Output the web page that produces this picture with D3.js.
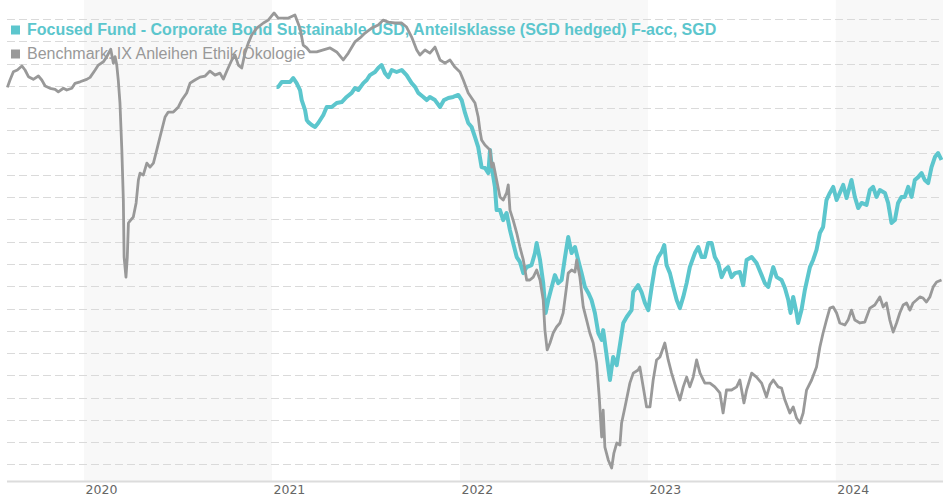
<!DOCTYPE html>
<html>
<head>
<meta charset="utf-8">
<script src="https://cdn.jsdelivr.net/npm/d3@7"></script>
<style>
  body { margin: 0; background: #fff; }
  svg { display: block; }
</style>
</head>
<body>
<div class="chart"></div>
<script>
// performance chart: fund vs benchmark, x in decimal years, y as indexed value

const fundName = 'Focused Fund - Corporate Bond Sustainable USD, Anteilsklasse (SGD hedged) F-acc, SGD';
const benchName = 'Benchmark: IX Anleihen Ethik/Ökologie';

const yearTicks = [2020, 2021, 2022, 2023, 2024];
const shadedYears = [2020, 2022, 2024];

// [year, value]
const benchmark = [
  [2019.592, 99.93], [2019.606, 100.26], [2019.624, 100.63], [2019.645, 100.71], [2019.669, 100.89],
  [2019.686, 100.71], [2019.704, 100.41], [2019.730, 100.29], [2019.757, 100.44], [2019.775, 100.26],
  [2019.793, 99.99], [2019.819, 99.89], [2019.846, 99.84], [2019.863, 99.73], [2019.890, 99.89],
  [2019.908, 99.81], [2019.935, 99.89], [2019.952, 100.11], [2019.979, 100.18], [2020.014, 100.29],
  [2020.032, 100.38], [2020.059, 100.71], [2020.076, 100.93], [2020.103, 101.08], [2020.121, 101.31],
  [2020.142, 101.64], [2020.156, 101.01], [2020.165, 101.31], [2020.174, 100.93], [2020.182, 100.26],
  [2020.191, 99.23], [2020.201, 97.12], [2020.209, 94.87], [2020.213, 92.31], [2020.223, 91.41],
  [2020.230, 92.31], [2020.236, 93.84], [2020.248, 93.97], [2020.262, 94.11], [2020.277, 94.74],
  [2020.289, 95.77], [2020.298, 96.08], [2020.315, 95.99], [2020.334, 96.53], [2020.351, 96.35],
  [2020.369, 96.53], [2020.387, 97.12], [2020.404, 97.70], [2020.431, 98.60], [2020.448, 98.82],
  [2020.475, 98.82], [2020.502, 99.05], [2020.520, 99.36], [2020.546, 99.68], [2020.564, 100.12],
  [2020.590, 100.26], [2020.617, 100.39], [2020.644, 100.44], [2020.670, 100.66], [2020.697, 100.48],
  [2020.723, 100.57], [2020.741, 100.30], [2020.762, 100.71], [2020.786, 101.16], [2020.803, 101.38],
  [2020.821, 100.93], [2020.839, 100.80], [2020.856, 101.47], [2020.874, 101.92], [2020.892, 102.28],
  [2020.919, 102.59], [2020.954, 102.82], [2020.980, 102.95], [2021.011, 103.27], [2021.033, 103.04],
  [2021.060, 103.04], [2021.087, 103.04], [2021.122, 103.18], [2021.149, 102.59], [2021.166, 101.83],
  [2021.185, 101.70], [2021.202, 101.52], [2021.238, 101.52], [2021.273, 101.61], [2021.309, 101.70],
  [2021.344, 101.52], [2021.379, 101.16], [2021.406, 101.47], [2021.441, 101.97], [2021.468, 102.15],
  [2021.495, 102.37], [2021.530, 102.59], [2021.565, 102.73], [2021.592, 102.95], [2021.619, 102.86],
  [2021.654, 102.82], [2021.690, 102.82], [2021.716, 102.64], [2021.743, 102.19], [2021.770, 101.61],
  [2021.787, 101.38], [2021.814, 101.61], [2021.840, 101.47], [2021.867, 101.74], [2021.894, 101.16],
  [2021.920, 101.02], [2021.947, 101.16], [2021.973, 100.84], [2022.000, 100.62], [2022.018, 100.26],
  [2022.044, 99.68], [2022.080, 99.23], [2022.097, 98.60], [2022.106, 98.01], [2022.115, 97.57],
  [2022.133, 97.34], [2022.160, 97.12], [2022.169, 96.35], [2022.177, 96.53], [2022.195, 95.77],
  [2022.213, 95.01], [2022.230, 94.87], [2022.248, 95.19], [2022.257, 95.55], [2022.266, 94.42],
  [2022.283, 93.97], [2022.302, 93.39], [2022.319, 92.76], [2022.337, 92.18], [2022.355, 91.28],
  [2022.372, 91.28], [2022.390, 91.41], [2022.408, 91.73], [2022.426, 91.28], [2022.443, 90.38],
  [2022.452, 89.03], [2022.464, 88.14], [2022.479, 88.45], [2022.496, 88.90], [2022.514, 89.17],
  [2022.532, 89.35], [2022.549, 89.80], [2022.567, 90.97], [2022.576, 91.59], [2022.594, 91.73],
  [2022.612, 91.64], [2022.621, 92.18], [2022.638, 91.41], [2022.656, 90.07], [2022.674, 89.48],
  [2022.691, 88.90], [2022.709, 88.45], [2022.727, 87.55], [2022.741, 86.03], [2022.754, 84.23],
  [2022.762, 85.44], [2022.771, 83.78], [2022.789, 83.20], [2022.807, 82.84], [2022.819, 83.51],
  [2022.834, 83.96], [2022.851, 83.87], [2022.860, 84.86], [2022.878, 85.58], [2022.904, 86.65],
  [2022.922, 87.10], [2022.948, 87.24], [2022.957, 87.37], [2022.975, 86.48], [2022.993, 85.58],
  [2023.011, 85.58], [2023.028, 86.79], [2023.046, 87.69], [2023.064, 87.82], [2023.090, 88.45],
  [2023.108, 87.69], [2023.126, 87.10], [2023.153, 86.34], [2023.170, 85.89], [2023.188, 86.48],
  [2023.206, 86.92], [2023.223, 86.48], [2023.241, 86.92], [2023.259, 87.69], [2023.277, 87.10],
  [2023.303, 86.65], [2023.330, 86.65], [2023.356, 86.48], [2023.383, 86.21], [2023.400, 85.31],
  [2023.418, 86.34], [2023.445, 86.34], [2023.472, 86.48], [2023.489, 86.79], [2023.511, 85.76],
  [2023.525, 86.34], [2023.552, 87.10], [2023.578, 86.92], [2023.605, 86.65], [2023.631, 86.03],
  [2023.649, 86.57], [2023.667, 86.79], [2023.693, 86.48], [2023.711, 86.43], [2023.729, 85.89],
  [2023.755, 85.31], [2023.773, 85.58], [2023.791, 85.08], [2023.809, 84.86], [2023.826, 85.31],
  [2023.844, 86.34], [2023.871, 86.79], [2023.897, 87.37], [2023.915, 88.27], [2023.932, 88.90],
  [2023.950, 89.48], [2023.968, 90.02], [2023.986, 90.07], [2024.004, 89.80], [2024.021, 89.35],
  [2024.048, 89.26], [2024.065, 89.48], [2024.083, 89.93], [2024.101, 89.48], [2024.128, 89.35],
  [2024.154, 89.39], [2024.181, 90.02], [2024.207, 90.16], [2024.234, 90.52], [2024.252, 90.07],
  [2024.269, 90.25], [2024.287, 89.48], [2024.305, 88.94], [2024.323, 89.35], [2024.340, 89.80],
  [2024.358, 90.16], [2024.376, 90.25], [2024.394, 89.93], [2024.411, 90.25], [2024.429, 90.38],
  [2024.447, 90.52], [2024.464, 90.47], [2024.482, 90.29], [2024.500, 90.52], [2024.518, 90.97],
  [2024.536, 91.19], [2024.562, 91.28]
];

const fund = [
  [2021.024, 99.95], [2021.033, 99.95], [2021.052, 100.17], [2021.078, 100.17], [2021.096, 100.17],
  [2021.113, 100.35], [2021.131, 100.12], [2021.149, 99.81], [2021.158, 99.36], [2021.176, 98.91],
  [2021.185, 98.46], [2021.193, 98.37], [2021.211, 98.24], [2021.229, 98.15], [2021.246, 98.33],
  [2021.273, 98.69], [2021.291, 99.05], [2021.318, 99.05], [2021.344, 99.23], [2021.371, 99.27],
  [2021.397, 99.50], [2021.424, 99.68], [2021.441, 99.90], [2021.459, 99.81], [2021.486, 100.12],
  [2021.504, 100.26], [2021.521, 100.48], [2021.548, 100.62], [2021.565, 100.80], [2021.583, 100.93],
  [2021.601, 100.57], [2021.619, 100.39], [2021.637, 100.71], [2021.663, 100.62], [2021.690, 100.71],
  [2021.716, 100.48], [2021.743, 100.12], [2021.761, 99.95], [2021.778, 99.68], [2021.805, 99.50],
  [2021.823, 99.36], [2021.840, 99.50], [2021.867, 99.36], [2021.894, 99.05], [2021.915, 99.36],
  [2021.938, 99.45], [2021.964, 99.50], [2021.991, 99.59], [2022.009, 99.36], [2022.027, 98.78],
  [2022.044, 98.33], [2022.062, 98.15], [2022.080, 97.70], [2022.097, 97.25], [2022.106, 96.80],
  [2022.115, 96.35], [2022.133, 96.31], [2022.151, 96.08], [2022.160, 97.12], [2022.169, 96.35],
  [2022.186, 95.46], [2022.195, 94.42], [2022.213, 94.42], [2022.230, 93.97], [2022.248, 94.29],
  [2022.266, 93.52], [2022.283, 92.94], [2022.302, 92.31], [2022.319, 92.09], [2022.337, 91.59],
  [2022.355, 91.86], [2022.381, 91.95], [2022.399, 92.49], [2022.408, 92.94], [2022.426, 92.18],
  [2022.443, 91.14], [2022.456, 89.80], [2022.470, 90.38], [2022.488, 90.97], [2022.505, 91.50],
  [2022.523, 91.14], [2022.541, 91.28], [2022.559, 92.31], [2022.576, 93.21], [2022.594, 92.49],
  [2022.612, 92.76], [2022.629, 92.18], [2022.647, 91.59], [2022.665, 90.97], [2022.683, 90.70],
  [2022.700, 90.38], [2022.718, 89.80], [2022.736, 88.90], [2022.754, 88.59], [2022.762, 89.03],
  [2022.780, 87.91], [2022.798, 86.79], [2022.815, 87.82], [2022.834, 87.46], [2022.851, 88.36],
  [2022.869, 89.35], [2022.887, 89.62], [2022.913, 89.93], [2022.922, 90.74], [2022.948, 91.05],
  [2022.966, 90.74], [2022.984, 90.25], [2023.002, 89.93], [2023.020, 90.97], [2023.037, 91.86],
  [2023.055, 92.31], [2023.073, 92.54], [2023.087, 92.85], [2023.099, 91.95], [2023.117, 91.59],
  [2023.135, 90.97], [2023.153, 90.38], [2023.170, 90.02], [2023.188, 90.52], [2023.206, 91.14],
  [2023.223, 91.86], [2023.250, 92.49], [2023.268, 92.76], [2023.286, 92.31], [2023.303, 92.31],
  [2023.321, 92.94], [2023.339, 92.94], [2023.356, 92.31], [2023.374, 92.04], [2023.392, 91.41],
  [2023.410, 91.73], [2023.427, 91.86], [2023.445, 91.41], [2023.463, 91.59], [2023.489, 91.64],
  [2023.507, 91.05], [2023.525, 92.18], [2023.552, 92.31], [2023.578, 92.04], [2023.605, 91.50],
  [2023.622, 91.14], [2023.640, 90.97], [2023.649, 91.28], [2023.667, 91.86], [2023.685, 91.41],
  [2023.711, 91.28], [2023.729, 90.92], [2023.747, 90.38], [2023.759, 89.80], [2023.773, 90.52],
  [2023.791, 89.80], [2023.799, 89.35], [2023.817, 89.93], [2023.835, 90.83], [2023.862, 91.86],
  [2023.879, 92.18], [2023.897, 92.63], [2023.915, 93.39], [2023.932, 93.66], [2023.950, 94.87],
  [2023.968, 95.19], [2023.986, 95.46], [2024.004, 94.87], [2024.021, 95.19], [2024.039, 95.55],
  [2024.057, 94.96], [2024.083, 95.77], [2024.101, 95.01], [2024.119, 94.51], [2024.137, 94.74],
  [2024.163, 94.65], [2024.181, 95.32], [2024.198, 95.46], [2024.216, 95.01], [2024.234, 95.32],
  [2024.261, 95.19], [2024.278, 94.74], [2024.296, 93.84], [2024.314, 93.97], [2024.331, 94.74],
  [2024.349, 95.01], [2024.367, 95.01], [2024.385, 95.46], [2024.403, 95.01], [2024.420, 95.77],
  [2024.438, 95.90], [2024.456, 96.08], [2024.473, 95.77], [2024.491, 95.63], [2024.509, 96.35],
  [2024.527, 96.80], [2024.544, 96.98], [2024.562, 96.67]
];

const width = 943;
const height = 500;
const fundColor = '#5cc6cd';
const benchColor = '#999999';

const svg = d3.select('.chart')
  .append('svg')
  .attr('width', width)
  .attr('height', height);

const x = d3.scaleLinear()
  .domain([2019.59, 2024.57])
  .range([7, 943]);

const y = d3.scaleLinear()
  .domain([83, 103])
  .range([464.4, 19]);

const axisY = 481.5;

// alternating year bands
svg.append('g')
  .selectAll('rect')
  .data(shadedYears)
  .enter()
    .append('rect')
    .attr('x', d => x(d))
    .attr('y', 0)
    .attr('width', d => Math.min(x(d + 1), width) - x(d))
    .attr('height', axisY)
    .attr('fill', '#f8f8f8');

// dashed horizontal grid
svg.append('g')
  .selectAll('line')
  .data(y.ticks(20))
  .enter()
    .append('line')
    .attr('x1', x.range()[0])
    .attr('x2', x.range()[1])
    .attr('y1', d => Math.round(y(d)) + 0.5)
    .attr('y2', d => Math.round(y(d)) + 0.5)
    .attr('stroke', '#dadada')
    .attr('stroke-width', 1)
    .attr('stroke-dasharray', '8,4');

// x axis
const xAxis = d3.axisBottom(x)
  .tickValues(yearTicks)
  .tickFormat(d3.format('d'))
  .tickSize(0)
  .tickPadding(0);

const axisG = svg.append('g')
  .attr('transform', `translate(0,${axisY})`)
  .call(xAxis);

axisG.select('.domain')
  .attr('d', `M${x.range()[0]},0H${x.range()[1]}`)
  .attr('stroke', '#dcdcdc')
  .attr('stroke-width', 2);

axisG.selectAll('text')
  .attr('text-anchor', 'start')
  .attr('dx', 1)
  .attr('y', 12.5)
  .attr('dy', 0)
  .attr('fill', '#666')
  .style('font-family', '"DejaVu Sans", Verdana, sans-serif')
  .style('font-size', '12.5px');

// legend
const legend = svg.append('g');
const legendItems = [
  { name: fundName, color: fundColor, bold: true, y: 35 },
  { name: benchName, color: benchColor, bold: false, y: 59 }
];

legend.selectAll('rect')
  .data(legendItems)
  .enter()
    .append('rect')
    .attr('x', 11)
    .attr('y', d => d.y - 9.5)
    .attr('width', 9)
    .attr('height', 9)
    .attr('fill', d => d.color);

legend.selectAll('text')
  .data(legendItems)
  .enter()
    .append('text')
    .attr('x', 27)
    .attr('y', d => d.y)
    .attr('fill', d => d.color)
    .style('font-family', '"Liberation Sans", Arial, sans-serif')
    .style('font-size', '16px')
    .style('font-weight', d => d.bold ? 'bold' : 'normal')
    .text(d => d.name);

// lines
const line = d3.line()
  .x(d => x(d[0]))
  .y(d => y(d[1]));

svg.append('path')
  .datum(fund)
  .attr('fill', 'none')
  .attr('stroke', fundColor)
  .attr('stroke-width', 4)
  .attr('stroke-linejoin', 'round')
  .attr('d', line);

svg.append('path')
  .datum(benchmark)
  .attr('fill', 'none')
  .attr('stroke', benchColor)
  .attr('stroke-width', 2.8)
  .attr('stroke-linejoin', 'round')
  .attr('d', line);
</script>
</body>
</html>
